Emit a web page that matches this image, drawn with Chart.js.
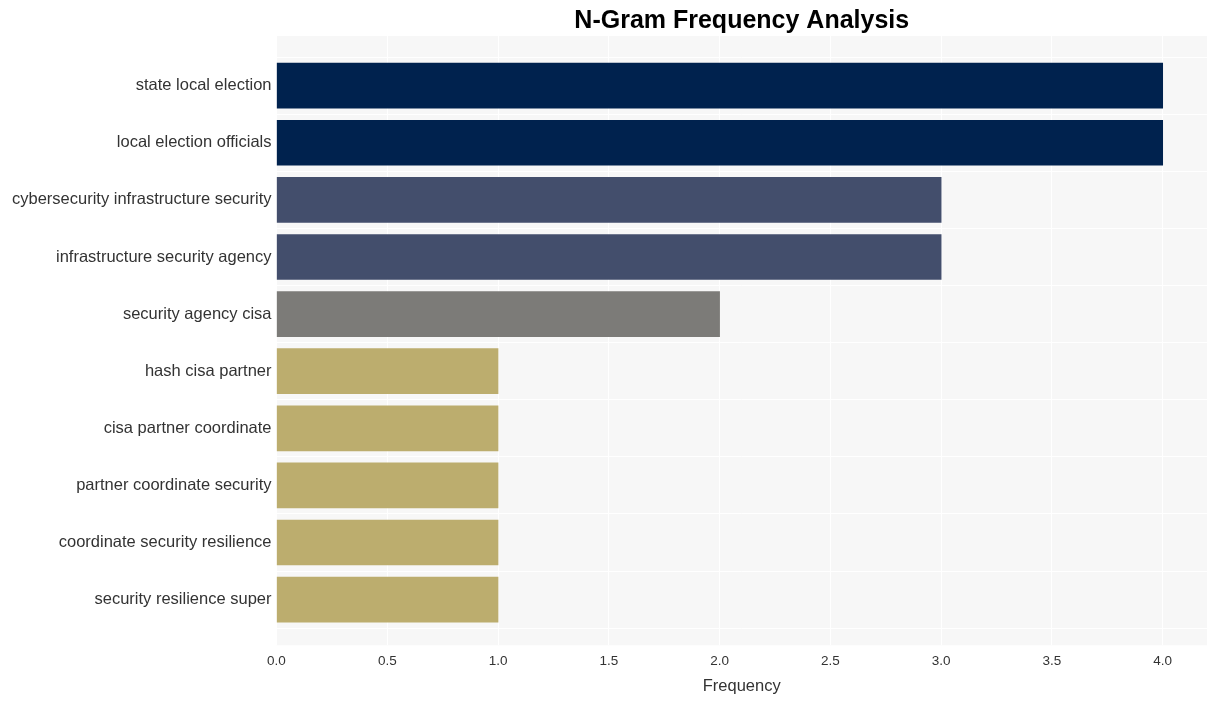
<!DOCTYPE html>
<html>
<head>
<meta charset="utf-8">
<title>N-Gram Frequency Analysis</title>
<script src="https://cdn.jsdelivr.net/npm/chart.js@4"></script>
<style>
  body { margin: 0; background: #ffffff; }
  #wrap { width: 1216px; height: 701px; }
</style>
</head>
<body>
<div id="wrap"><canvas id="barChart" width="1216" height="701"></canvas></div>
<script>
// n-grams, top to bottom
const categories = [
  'state local election',
  'local election officials',
  'cybersecurity infrastructure security',
  'infrastructure security agency',
  'security agency cisa',
  'hash cisa partner',
  'cisa partner coordinate',
  'partner coordinate security',
  'coordinate security resilience',
  'security resilience super'
];
const frequencies = [4, 4, 3, 3, 2, 1, 1, 1, 1, 1];
const xTicks = [0, 0.5, 1, 1.5, 2, 2.5, 3, 3.5, 4];

// colour per frequency level
const levelColors = {
  4: '#00224e',
  3: '#434e6c',
  2: '#7c7b78',
  1: '#bcad6e'
};

document.addEventListener('DOMContentLoaded', function () {

  const ctx = document.getElementById('barChart').getContext('2d');

  // light grey panel behind the bars
  const panelBg = {
    id: 'panelBg',
    beforeDraw(chart) {
      const a = chart.chartArea;
      const c = chart.ctx;
      c.save();
      c.fillStyle = '#f7f7f7';
      c.fillRect(a.left, a.top, a.right - a.left, a.bottom - a.top);
      c.restore();
    }
  };

  // center the title over the plot instead of the whole canvas
  const titleOverPlot = {
    id: 'titleOverPlot',
    afterLayout(chart) {
      const t = chart.titleBlock;
      if (!t) return;
      t.left = chart.chartArea.left;
      t.right = chart.chartArea.right;
      t.width = t.right - t.left;
    }
  };

  const points = frequencies.map((v, i) => ({ x: v, y: i }));

  new Chart(ctx, {
    type: 'bar',
    data: {
      datasets: [{
        label: 'Frequency',
        data: points,
        backgroundColor: frequencies.map(v => levelColors[v]),
        borderWidth: 0,
        barThickness: 45
      }]
    },
    options: {
      indexAxis: 'y',
      responsive: false,
      animation: false,
      layout: {
        padding: { left: 7, right: 9, top: 0, bottom: 6 }
      },
      plugins: {
        legend: { display: false },
        tooltip: { enabled: false },
        title: {
          display: true,
          text: 'N-Gram Frequency Analysis',
          color: '#000000',
          font: { family: 'Liberation Sans, Arial', size: 25, weight: 'bold' },
          padding: { top: 6, bottom: 0 }
        }
      },
      scales: {
        x: {
          type: 'linear',
          min: 0,
          max: 4.2,
          afterBuildTicks(axis) {
            axis.ticks = xTicks.map(v => ({ value: v }));
          },
          ticks: {
            color: '#333333',
            font: { family: 'Liberation Sans, Arial', size: 13.5 },
            padding: 8,
            callback: v => Number(v).toFixed(1)
          },
          grid: {
            color: '#ffffff',
            lineWidth: 1,
            drawTicks: false
          },
          border: { display: false },
          title: {
            display: true,
            text: 'Frequency',
            color: '#333333',
            font: { family: 'Liberation Sans, Arial', size: 16.5, lineHeight: 1.0 },
            padding: { top: 1, bottom: 0 }
          }
        },
        y: {
          type: 'linear',
          reverse: true,
          offset: false,
          min: -0.87,
          max: 9.8,
          afterBuildTicks(axis) {
            axis.ticks = categories.map((c, i) => ({ value: i }));
          },
          ticks: {
            color: '#333333',
            font: { family: 'Liberation Sans, Arial', size: 16.5 },
            padding: 5,
            autoSkip: false,
            callback: v => categories[v] !== undefined ? categories[v] : ''
          },
          grid: {
            color: '#ffffff',
            lineWidth: 1,
            drawTicks: false
          },
          border: { display: false }
        }
      }
    },
    plugins: [panelBg, titleOverPlot]
  });

});
</script>
</body>
</html>
